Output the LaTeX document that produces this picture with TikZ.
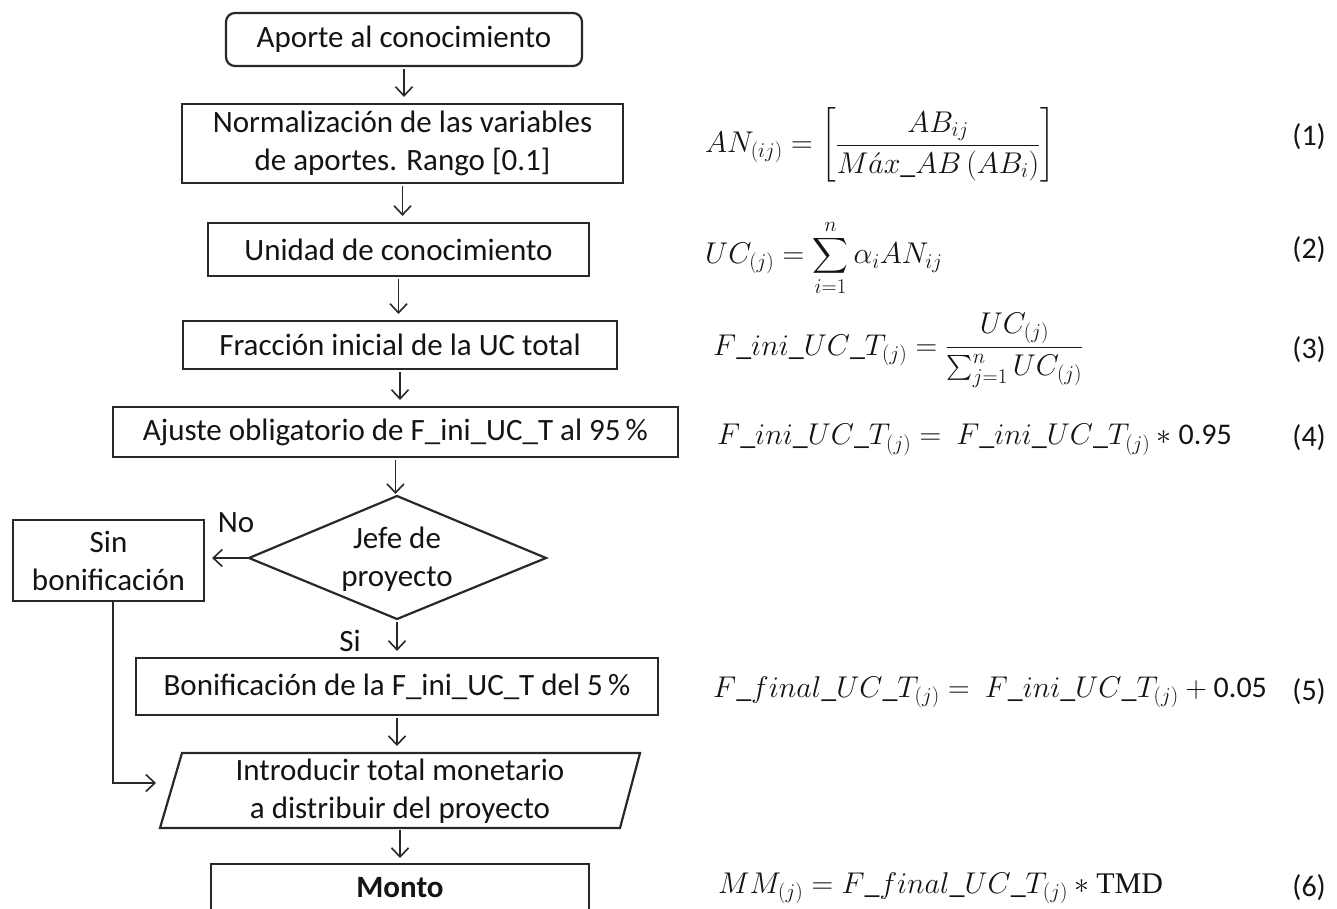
\RequirePackage{fix-cm}
\documentclass[tikz,border=0pt]{standalone}
\usepackage{amsmath}
\usepackage{fontspec}
\setmainfont{Carlito}
\newfontfamily\tmdfont{Liberation Serif}
\usetikzlibrary{arrows.meta,calc}
\definecolor{ln}{RGB}{40,40,40}
\definecolor{txt}{RGB}{20,20,20}
\begin{document}
\begin{tikzpicture}[x=1pt,y=-1pt,
  every node/.style={font=\fontsize{31}{38}\selectfont, text=txt},
  box/.style={draw=ln, line width=2.2pt, inner sep=0pt, align=center},
  arr/.style={draw=ln, line width=1.6pt, -{Straight Barb[length=9pt,width=17pt,line width=1.6pt]}},
  eqn/.style={anchor=west, inner sep=0pt, font=\fontsize{30}{36}\selectfont},
  eqnum/.style={anchor=east, inner sep=0pt, font=\fontsize{30}{36}\selectfont}]
\clip (0,0) rectangle (1337,909);
\fill[white] (0,0) rectangle (1337,909);

% flowchart nodes
\node[box, rounded corners=9pt, minimum width=356, minimum height=53] (n1) at (404,39.5) {Aporte al conocimiento};
\node[box, minimum width=441, minimum height=79] (n2) at (402.5,143.5) {Normalización de las variables\\de aportes. Rango [0.1]};
\node[box, minimum width=381, minimum height=53] (n3) at (398.5,249.5) {Unidad de conocimiento};
\node[box, minimum width=434, minimum height=48] (n4) at (400,345) {Fracción inicial de la UC total};
\node[box, minimum width=565, minimum height=50] (n5) at (395.5,432) {Ajuste obligatorio de F\_ini\_UC\_T al 95\,\%};

\node[align=center, inner sep=0pt] (dt) at (397,559) {Jefe de\\proyecto};
\draw[ln, line width=2.2pt] (397,496) coordinate (dN) -- (546,558) coordinate (dE)
  -- (397,619) coordinate (dS) -- (249,558) coordinate (dW) -- cycle;

\node[box, minimum width=191, minimum height=81] (sin) at (108.5,560.5) {Sin\\bonificación};
\node[box, minimum width=522, minimum height=57] (n6) at (397,686.5) {Bonificación de la F\_ini\_UC\_T del 5\,\%};

\draw[ln, line width=2.2pt] (182,753) coordinate (pTL) -- (640,753) coordinate (pTR)
  -- (620,828) coordinate (pBR) -- (160,828) coordinate (pBL) -- cycle;
\node[align=center, inner sep=0pt] (intro) at (400,791) {Introducir total monetario\\a distribuir del proyecto};
\coordinate (pT) at (400,753);
\coordinate (pB) at (400,828);

\node[box, minimum width=378, minimum height=90, anchor=north] (n7) at (400,863) {};
\node[font=\fontsize{31}{38}\selectfont\bfseries, inner sep=0pt] (mt) at (400,888) {Monto};

% labels
\node[inner sep=0pt] (no) at (236,523) {No};
\node[inner sep=0pt] (si) at (350,641) {Si};

% connectors
\draw[arr, shorten <=2pt, shorten >=6pt] (n1.south) -- (n1.south |- n2.north);
\draw[arr, shorten <=2pt, shorten >=6pt] (n2.south) -- (n2.south |- n3.north);
\draw[arr, shorten <=2pt, shorten >=6pt] (n3.south) -- (n3.south |- n4.north);
\draw[arr, shorten <=2pt, shorten >=6pt] (n4.south) -- (n4.south |- n5.north);
\draw[arr, shorten <=2pt, shorten >=2pt] (n5.south) -- (n5.south |- dN);
\draw[arr, shorten <=3pt, shorten >=6pt] (dS) -- (dS |- n6.north);
\draw[arr, shorten <=2pt, shorten >=7pt] (n6.south) -- (n6.south |- pT);
\draw[arr, shorten <=2pt, shorten >=5pt] (pB) -- (pB |- n7.north);
\draw[arr, shorten >=7pt] (dW) -- (dW -| sin.east);
\coordinate (pin) at (156,783);
\draw[arr] ([xshift=4.5pt]sin.south) |- (pin);

% equations
\node[eqn] (e1) at (705,145) {$AN_{(ij)} = \left[\dfrac{AB_{ij}}{M\acute{a}x\_AB\,(AB_i)}\right]$};
\node[eqnum] (k1) at (1326,137) {(1)};
\node[eqn] (e2) at (705,258) {$UC_{(j)} = \displaystyle\sum_{i=1}^{n} \alpha_i AN_{ij}$};
\node[eqnum] (k2) at (1326,250) {(2)};
\node[eqn] (e3) at (713,350) {$F\_ini\_UC\_T_{(j)} = \dfrac{UC_{(j)}}{\sum_{j=1}^{n} UC_{(j)}}$};
\node[eqnum] (k3) at (1326,350) {(3)};
\node[eqn] (e4) at (717,440) {$F\_ini\_UC\_T_{(j)} = \ F\_ini\_UC\_T_{(j)} \ast \text{0.95}$};
\node[eqnum] (k4) at (1326,438) {(4)};
\node[eqn] (e5) at (713,692) {$F\_final\_UC\_T_{(j)} = \ F\_ini\_UC\_T_{(j)} + \text{0.05}$};
\node[eqnum] (k5) at (1326,692) {(5)};
\node[eqn] (e6) at (718,888) {$MM_{(j)} = F\_final\_UC\_T_{(j)} \ast \text{\tmdfont TMD}$};
\node[eqnum] (k6) at (1326,888) {(6)};
\end{tikzpicture}
\end{document}
